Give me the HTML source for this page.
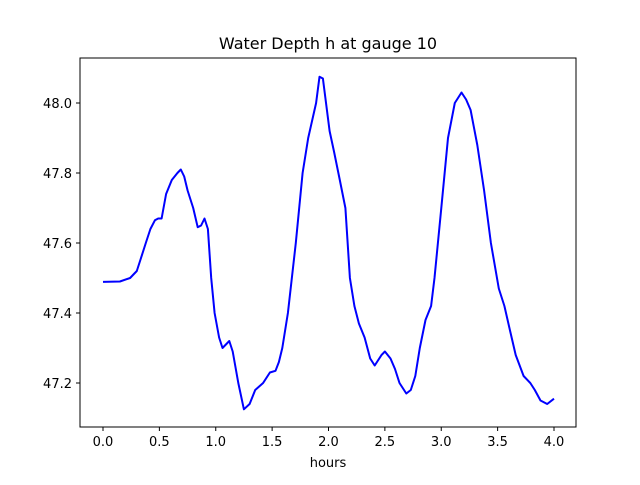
<!DOCTYPE html>
<html><head><meta charset="utf-8"><style>
body{margin:0;background:#fff;}
svg text{font-family:"DejaVu Sans","Liberation Sans",sans-serif;fill:#000;}
</style></head><body>
<svg id="chart" width="640" height="480" xmlns="http://www.w3.org/2000/svg">
<rect x="0" y="0" width="640" height="480" fill="#fff"/>
<text x="328" y="49" font-size="16" text-anchor="middle">Water Depth h at gauge 10</text>
<g id="xticks"></g>
<g id="yticks"></g>
<path id="series" fill="none" stroke="#0000ff" stroke-width="2" stroke-linejoin="round"/>
<rect x="80" y="58" width="496" height="369" fill="none" stroke="#000" stroke-width="1"/>
<text x="328" y="467" font-size="13" text-anchor="middle">hours</text>
</svg>
<script>
const hours=[0,0.15,0.24,0.30,0.33,0.38,0.42,0.46,0.49,0.52,0.56,0.61,0.66,0.69,0.72,0.75,0.80,0.84,0.87,0.90,0.93,0.96,0.99,1.03,1.06,1.09,1.12,1.15,1.20,1.25,1.30,1.35,1.42,1.48,1.53,1.56,1.59,1.64,1.71,1.77,1.82,1.89,1.92,1.95,2.01,2.05,2.10,2.15,2.19,2.23,2.27,2.32,2.37,2.41,2.47,2.50,2.55,2.59,2.63,2.69,2.73,2.77,2.81,2.86,2.91,2.94,3.00,3.06,3.12,3.18,3.22,3.26,3.32,3.38,3.44,3.51,3.56,3.61,3.66,3.73,3.79,3.83,3.88,3.94,4.0];
const depth=[47.489,47.49,47.5,47.52,47.55,47.6,47.64,47.665,47.67,47.67,47.74,47.78,47.8,47.81,47.79,47.75,47.7,47.645,47.65,47.67,47.64,47.5,47.4,47.33,47.3,47.31,47.32,47.29,47.2,47.125,47.14,47.18,47.2,47.23,47.235,47.26,47.3,47.4,47.6,47.8,47.9,48.0,48.075,48.07,47.92,47.86,47.78,47.7,47.5,47.42,47.37,47.33,47.27,47.25,47.28,47.29,47.27,47.24,47.2,47.17,47.18,47.22,47.3,47.38,47.42,47.5,47.7,47.9,48.0,48.03,48.01,47.98,47.88,47.75,47.6,47.47,47.42,47.35,47.28,47.22,47.2,47.18,47.15,47.14,47.155];
const xTicks=[0,0.5,1.0,1.5,2.0,2.5,3.0,3.5,4.0];
const yTicks=[47.2,47.4,47.6,47.8,48.0];
const X=t=>103+(t-0)*112.75;
const Y=h=>103+(48.0-h)*350;
const ns="http://www.w3.org/2000/svg";
let d="";
hours.forEach((t,i)=>{d+=(i?"L":"M")+X(t).toFixed(1)+","+Y(depth[i]).toFixed(1);});
document.getElementById("series").setAttribute("d",d);
const gx=document.getElementById("xticks");
xTicks.forEach(t=>{
 const l=document.createElementNS(ns,"line");
 
 
 l.setAttribute("x1",X(t));l.setAttribute("x2",X(t));l.setAttribute("y1",427);l.setAttribute("y2",431);l.setAttribute("stroke","#000");
 gx.appendChild(l);
 const tx=document.createElementNS(ns,"text");
 
 
 tx.setAttribute("x",X(t));tx.setAttribute("y",446);tx.setAttribute("font-size","13");tx.setAttribute("text-anchor","middle");
 tx.textContent=t.toFixed(1);gx.appendChild(tx);
});
const gy=document.getElementById("yticks");
yTicks.forEach(h=>{
 const l=document.createElementNS(ns,"line");
 
 
 l.setAttribute("x1",76);l.setAttribute("x2",80);l.setAttribute("y1",Y(h));l.setAttribute("y2",Y(h));l.setAttribute("stroke","#000");
 gy.appendChild(l);
 const tx=document.createElementNS(ns,"text");
 
 
 tx.setAttribute("x",72);tx.setAttribute("y",Y(h)+5);tx.setAttribute("font-size","13");tx.setAttribute("text-anchor","end");
 tx.textContent=h.toFixed(1);gy.appendChild(tx);
});
</script>
</body></html>
